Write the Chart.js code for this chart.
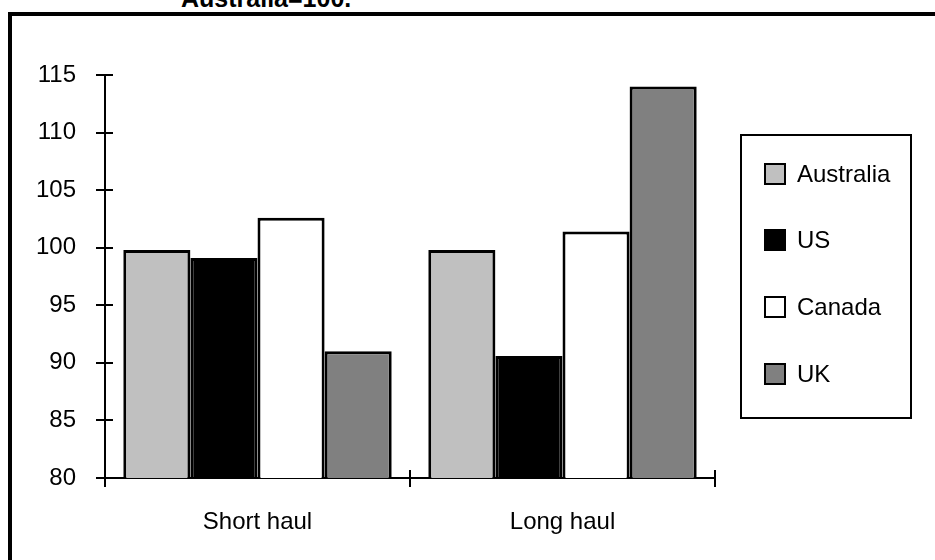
<!DOCTYPE html>
<html>
<head>
<meta charset="utf-8">
<script src="https://cdn.jsdelivr.net/npm/chart.js@4.4.0/dist/chart.umd.min.js"></script>
<style>
    html, body { margin: 0; padding: 0; background: #fff; }
    #wrap { position: relative; width: 935px; height: 560px; overflow: hidden; }
    #frame { position: absolute; left: 8px; top: 12px; width: 960px; height: 600px; border-left: 4px solid #000; border-top: 4px solid #000; }
    #title { position: absolute; left: 181px; top: -16px; font: bold 25px "Liberation Sans", Arial, sans-serif; color: #000; white-space: nowrap; }
    canvas { position: absolute; left: 0; top: 0; }
</style>
</head>
<body>
<div id="wrap">
    <div id="frame"></div>
    <div id="title">Australia=100.</div>
    <canvas id="chart" width="935" height="560"></canvas>
</div>
<script>
const categories = ['Short haul', 'Long haul'];
const australia = [99.8, 99.8];
const us = [99.1, 90.6];
const canada = [102.6, 101.4];
const uk = [91.0, 114.0];
const yTicks = [80, 85, 90, 95, 100, 105, 110, 115];

const FONT = '"Liberation Sans", Arial, sans-serif';

const crossTicks = {
    id: 'crossTicks',
    afterDraw(chart) {
        const { ctx, scales: { x, y } } = chart;
        ctx.save();
        ctx.strokeStyle = '#000';
        ctx.lineWidth = 2;
        y.ticks.forEach((t, i) => {
            const py = Math.round(y.getPixelForTick(i));
            ctx.beginPath();
            ctx.moveTo(x.left - 9, py);
            ctx.lineTo(x.left + 8, py);
            ctx.stroke();
        });
        const edges = [x.left];
        for (let i = 0; i < categories.length - 1; i++) {
            edges.push((x.getPixelForValue(i) + x.getPixelForValue(i + 1)) / 2);
        }
        edges.push(x.right);
        edges.forEach((px) => {
            ctx.beginPath();
            ctx.moveTo(Math.round(px), y.bottom - 8);
            ctx.lineTo(Math.round(px), y.bottom + 9);
            ctx.stroke();
        });
        ctx.restore();
    }
};

const boxLegend = {
    id: 'boxLegend',
    afterDraw(chart) {
        const { ctx } = chart;
        ctx.save();
        ctx.strokeStyle = '#000';
        ctx.lineWidth = 2;
        ctx.strokeRect(741, 135, 170, 283);
        ctx.font = '24px ' + FONT;
        ctx.textBaseline = 'middle';
        const rows = [174, 240, 307, 374];
        chart.data.datasets.forEach((ds, i) => {
            ctx.fillStyle = ds.backgroundColor;
            ctx.fillRect(765, rows[i] - 10, 20, 20);
            ctx.strokeRect(765, rows[i] - 10, 20, 20);
            ctx.fillStyle = '#000';
            ctx.fillText(ds.label, 797, rows[i] + 1);
        });
        ctx.restore();
    }
};

const makeSet = (label, data, color) => ({
    label, data, backgroundColor: color, borderColor: '#000', borderWidth: 3, borderSkipped: false
});

new Chart(document.getElementById('chart'), {
    type: 'bar',
    data: {
        labels: categories,
        datasets: [
            makeSet('Australia', australia, '#c0c0c0'),
            makeSet('US', us, '#000000'),
            makeSet('Canada', canada, '#ffffff'),
            makeSet('UK', uk, '#808080')
        ]
    },
    options: {
        responsive: false,
        animation: false,
        events: [],
        categoryPercentage: 0.88,
        barPercentage: 1,
        layout: { padding: { top: 75, right: 220, left: 0, bottom: 0 } },
        plugins: { legend: { display: false }, tooltip: { enabled: false } },
        scales: {
            x: {
                grid: { display: false },
                border: { color: '#000', width: 2 },
                ticks: { color: '#000', font: { family: FONT, size: 24 }, padding: 22 },
                afterFit: (s) => { s.height = 82; }
            },
            y: {
                min: 80,
                max: 115,
                afterBuildTicks: (s) => { s.ticks = yTicks.map((v) => ({ value: v })); },
                grid: { display: false },
                border: { color: '#000', width: 2 },
                ticks: { color: '#000', font: { family: FONT, size: 24 }, padding: 21 },
                afterFit: (s) => { s.width = 105; }
            }
        }
    },
    plugins: [crossTicks, boxLegend]
});
</script>
</body>
</html>
